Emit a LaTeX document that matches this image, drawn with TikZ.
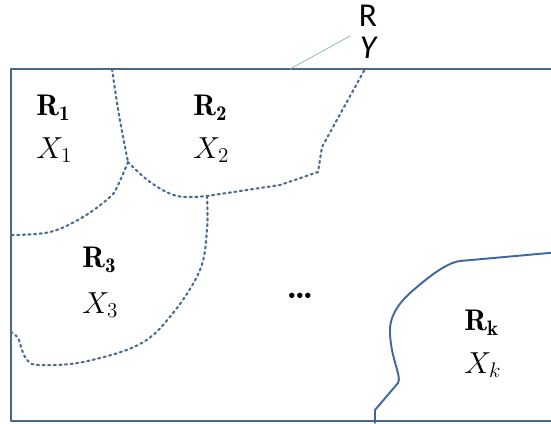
\documentclass[tikz,border=0pt]{standalone}
\usepackage{fontspec}
\newfontfamily\calfont{Carlito}
\usetikzlibrary{positioning}
\definecolor{frameblue}{HTML}{4A6885}
\definecolor{edgeblue}{HTML}{4D6C8E}
\definecolor{regblue}{HTML}{3F67A0}
\definecolor{tagteal}{HTML}{86AEBE}
\tikzset{
  every picture/.style={line cap=round, line join=round},
  frame/.style={frameblue, line width=1.1pt},
  border/.style={edgeblue, line width=1.2pt, dotted},
  regedge/.style={regblue, line width=1.1pt},
  callout/.style={tagteal, thin},
  lab/.style={anchor=west, inner sep=0pt, font=\fontsize{17}{20}\selectfont},
  toplab/.style={inner sep=0pt, font=\calfont\fontsize{19}{22}\selectfont},
}

\begin{document}
\begin{tikzpicture}[x=0.02cm, y=-0.02cm]
  \useasboundingbox (0,0) rectangle (551,423);
  \clip (0,0) rectangle (551,423);
  % ---------- the whole region R
  \draw[frame] (11,69) rectangle (570,421);
  \node[toplab] (rlab) at (368,16) {R};
  \node[toplab, below=5.5pt of rlab] (ylab) {\itshape Y};
  \coordinate (tagfoot) at (290,69);
  \coordinate (tagtip) at (350,36);
  \draw[callout] (tagfoot) -- (tagtip);
  % ---------- dotted borders between R1, R2, R3, ...
  \coordinate (J1) at (128,162);   % R1, R2, R3 meet
  \coordinate (J2) at (207,196);   % R2, R3 and the rest meet
  \draw[border] plot[smooth, tension=0.5] coordinates {(112,69) (119,115) (J1)};
  \draw[border] plot[smooth, tension=0.6] coordinates {(J1) (118,185) (110,197) (83,217) (50,232) (11,235)};
  \draw[border] plot[smooth, tension=0.6] coordinates {(J1) (150,182) (177,196) (J2)}
    -- (280,185) -- (318,172) -- (322,147) -- (365,69);
  \draw[border] plot[smooth, tension=0.6] coordinates {(J2) (207,230) (200,270) (173,313) (140,344)
    (83,362) (40,365) (28,361) (22,350) (18,338) (11,332)};
  % ---------- solid border of Rk
  \draw[regedge] (375,423) -- (375,410) -- (398,383)
    .. controls (402,376) and (391,360) .. (390,333)
    .. controls (389,318) and (397,305) .. (410,293)
    .. controls (425,280) and (445,263) .. (460,261) -- (560,252);
  % ---------- labels
  \node[lab] (r1) at (36,108) {$\mathbf{R_1}$};
  \node[lab] (x1) at (36,150) {$X_1$};
  \node[lab] (r2) at (193,108) {$\mathbf{R_2}$};
  \node[lab] (x2) at (193,150) {$X_2$};
  \node[lab] (r3) at (82,260) {$\mathbf{R_3}$};
  \node[lab] (x3) at (82,305) {$X_3$};
  \node[lab] (rk) at (464,323) {$\mathbf{R_k}$};
  \node[lab] (xk) at (464,365) {$X_k$};
  \node[lab, font=\fontsize{21}{24}\selectfont\bfseries] (dots) at (286,296) {.\kern-1.9pt.\kern-1.9pt.};
\end{tikzpicture}
\end{document}
